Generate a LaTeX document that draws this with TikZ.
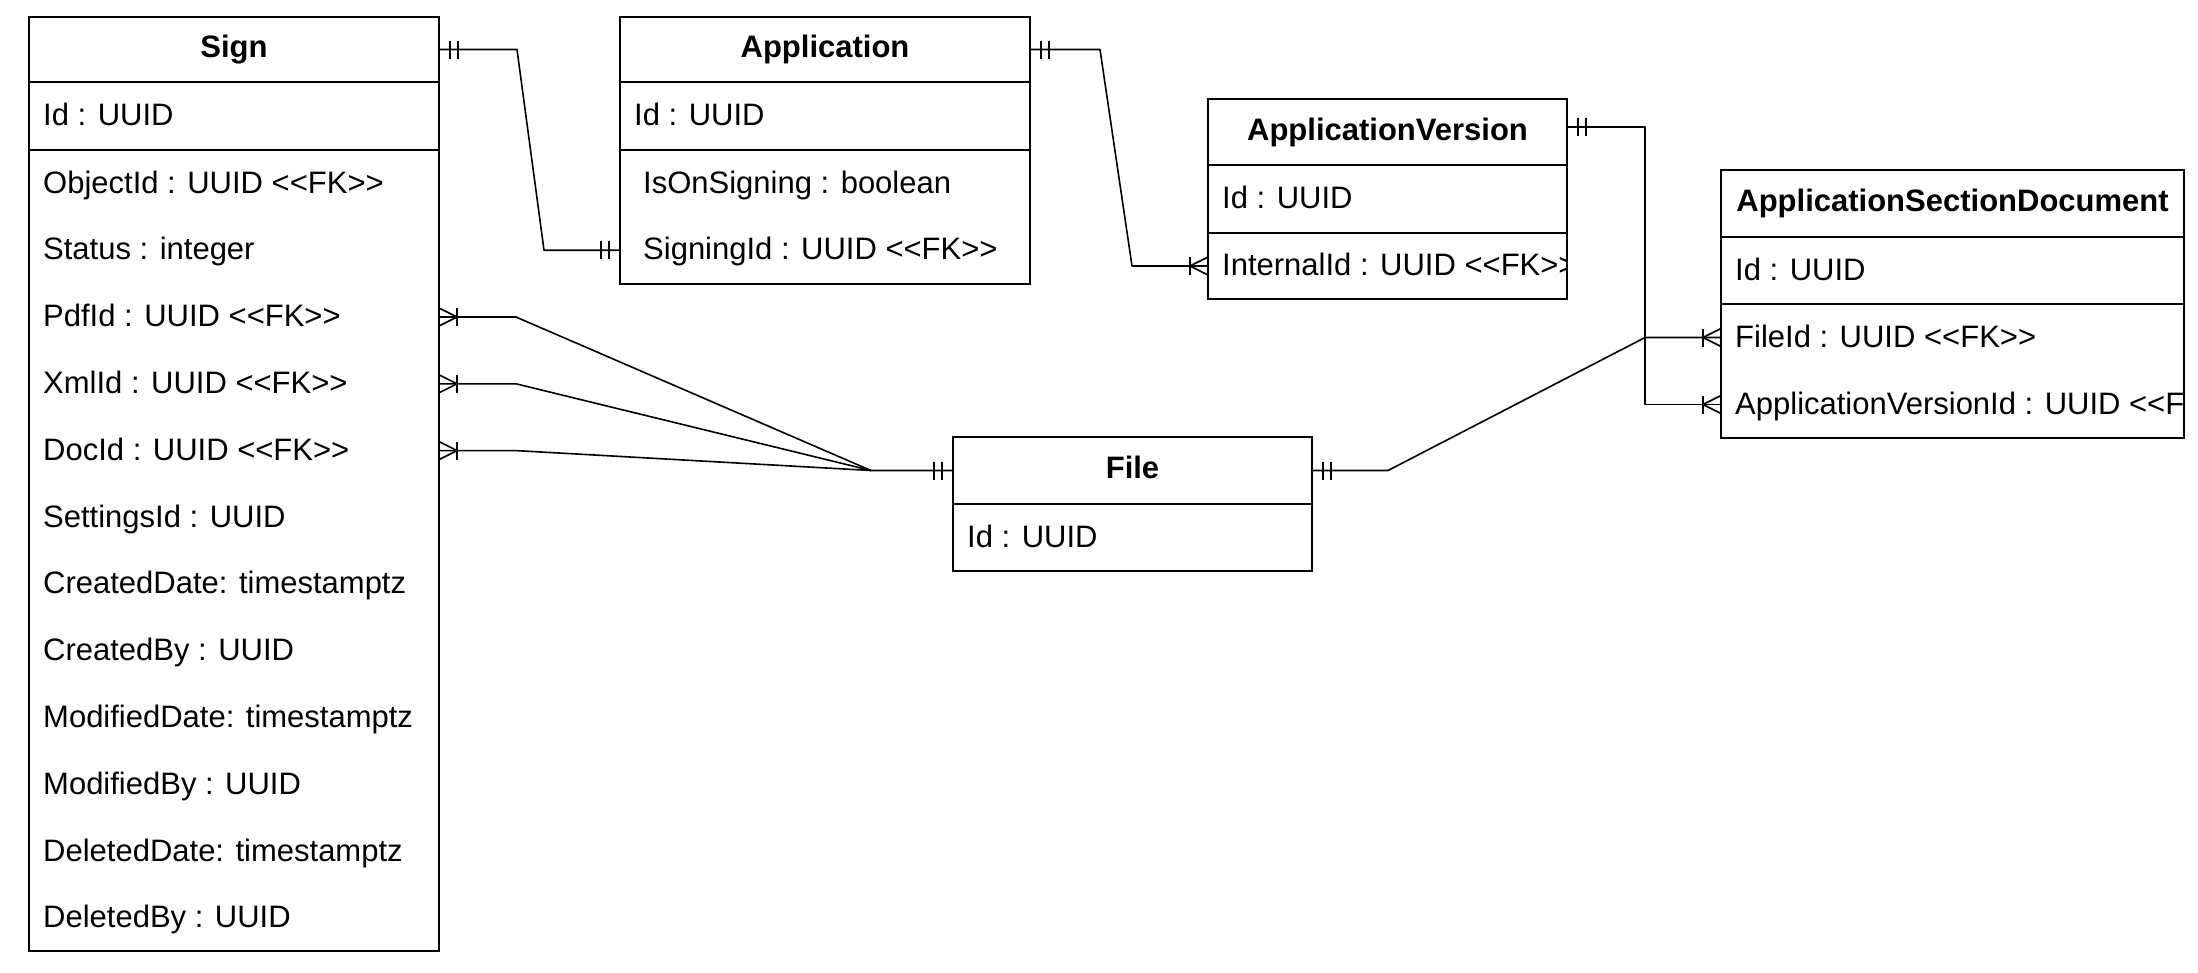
\documentclass[tikz,border=0pt]{standalone}
\usepackage{fontspec}
\setmainfont{Liberation Sans}
\usetikzlibrary{calc}
\newcommand{\fk}{<\kern0pt<FK>\kern0pt>}
\newcommand{\ermandone}[2]{%
  \draw[mk] ($#1+({#2*11},-9)$) -- ($#1+({#2*11},9)$);
  \draw[mk] ($#1+({#2*19},-9)$) -- ($#1+({#2*19},9)$);}
\newcommand{\ermany}[2]{%
  \draw[mk] ($#1+(0,-9)$) -- ($#1+({#2*18},0)$) -- ($#1+(0,9)$);
  \draw[mk] ($#1+({#2*18},-9)$) -- ($#1+({#2*18},9)$);}
\begin{document}
\begin{tikzpicture}[x=1pt,y=-1pt,
  box/.style={draw=black, line width=2.2pt, rectangle, inner sep=0pt, outer sep=0pt, anchor=north west},
  hdr/.style={box, font=\fontsize{31}{37}\selectfont\bfseries, text height=22pt, text depth=6pt},
  fld/.style={anchor=mid west, inner sep=0pt, yshift=-7pt, font=\fontsize{31}{37}\selectfont},
  rel/.style={line width=1.6pt, line join=round},
  mk/.style={line width=1.6pt}]
\fill[white] (0,0) rectangle (2198,972);
\useasboundingbox (0,0) rectangle (2198,972);

% ---------- Sign ----------
\node[hdr, minimum width=410pt, minimum height=65pt] (signh) at (29,17) {Sign};
\node[box, minimum width=410pt, minimum height=68pt] (signi) at (signh.south west) {};
\node[box, minimum width=410pt, minimum height=801pt] (signf) at (signi.south west) {};
\node[fld] (sign-id) at ($(signi.west)+(14,0)$) {Id : UUID};
\foreach \n/\t [count=\i from 0] in {obj/{ObjectId : UUID \fk}, status/{Status : integer},
  pdf/{PdfId : UUID \fk}, xml/{XmlId : UUID \fk}, doc/{DocId : UUID \fk},
  settings/{SettingsId : UUID}, cdate/{CreatedDate: timestamptz}, cby/{CreatedBy : UUID},
  mdate/{ModifiedDate: timestamptz}, mby/{ModifiedBy : UUID},
  ddate/{DeletedDate: timestamptz}, dby/{DeletedBy : UUID}}
  \coordinate (sign-\n) at ($(signf.north west)+(14,{33.4+66.8*\i})$);
\foreach \n/\t in {obj/{ObjectId : UUID \fk}, status/{Status : integer},
  pdf/{PdfId : UUID \fk}, xml/{XmlId : UUID \fk}, doc/{DocId : UUID \fk},
  settings/{SettingsId : UUID}, cdate/{CreatedDate: timestamptz}, cby/{CreatedBy : UUID},
  mdate/{ModifiedDate: timestamptz}, mby/{ModifiedBy : UUID},
  ddate/{DeletedDate: timestamptz}, dby/{DeletedBy : UUID}}
  \node[fld] (sign-\n-t) at (sign-\n) {\t};

% ---------- Application ----------
\node[hdr, minimum width=410pt, minimum height=65pt] (apph) at (620,17) {Application};
\node[box, minimum width=410pt, minimum height=68pt] (appi) at (apph.south west) {};
\node[box, minimum width=410pt, minimum height=133.6pt] (appf) at (appi.south west) {};
\node[fld] (app-id) at ($(appi.west)+(14,0)$) {Id : UUID};
\coordinate (app-ison) at ($(appf.north west)+(23,33.4)$);
\coordinate (app-sid) at ($(appf.north west)+(23,100.2)$);
\node[fld] (app-ison-t) at (app-ison) {IsOnSigning : boolean};
\node[fld] (app-sid-t) at (app-sid) {SigningId : UUID \fk};

% ---------- ApplicationVersion ----------
\node[hdr, minimum width=359pt, minimum height=66pt] (avh) at (1208,99) {ApplicationVersion};
\node[box, minimum width=359pt, minimum height=68pt] (avi) at (avh.south west) {};
\node[box, minimum width=359pt, minimum height=66pt] (avf) at (avi.south west) {};
\node[fld] (av-id) at ($(avi.west)+(14,0)$) {Id : UUID};
\coordinate (av-int) at ($(avf.west)+(14,0)$);
\begin{scope}
  \clip (avf.north west) rectangle (avf.south east);
  \node[fld] (av-int-t) at (av-int) {InternalId : UUID \fk};
\end{scope}

% ---------- ApplicationSectionDocument ----------
\node[hdr, minimum width=463pt, minimum height=67pt] (asdh) at (1721,170) {ApplicationSectionDocument};
\node[box, minimum width=463pt, minimum height=67pt] (asdi) at (asdh.south west) {};
\node[box, minimum width=463pt, minimum height=134pt] (asdf) at (asdi.south west) {};
\node[fld] (asd-id) at ($(asdi.west)+(14,0)$) {Id : UUID};
\coordinate (asd-file) at ($(asdf.north west)+(14,33.5)$);
\coordinate (asd-av) at ($(asdf.north west)+(14,100.5)$);
\node[fld] (asd-file-t) at (asd-file) {FileId : UUID \fk};
\begin{scope}
  \clip (asdf.north west) rectangle (asdf.south east);
  \node[fld] (asd-av-t) at (asd-av) {ApplicationVersionId : UUID \fk};
\end{scope}

% ---------- File ----------
\node[hdr, minimum width=359pt, minimum height=67pt] (fileh) at (953,437) {File};
\node[box, minimum width=359pt, minimum height=67pt] (filei) at (fileh.south west) {};
\node[fld] (file-id) at ($(filei.west)+(14,0)$) {Id : UUID};

% ---------- connector end points ----------
\coordinate (e1) at (appf.west |- app-sid);
\coordinate (e2) at (avf.west |- av-int);
\coordinate (s3) at ($(avh.east)+(0,-5)$);
\coordinate (e3) at (asdf.west |- asd-av);
\coordinate (e4) at (asdf.west |- asd-file);
\coordinate (ep) at (signf.east |- sign-pdf);
\coordinate (ex) at (signf.east |- sign-xml);
\coordinate (ed) at (signf.east |- sign-doc);
\coordinate (fj) at ($(fileh.west)+(-82,0)$);

% ---------- connectors ----------
\draw[rel] (signh.east) -- ($(signh.east)+(78,0)$) -- ($(e1)+(-76,0)$) -- (e1);
\draw[rel] (apph.east) -- ($(apph.east)+(70,0)$) -- ($(e2)+(-76,0)$) -- (e2);
\draw[rel] (s3) -- ($(s3)+(78,0)$) -- ($(e3)+(-76,0)$) -- (e3);
\draw[rel] (fileh.east) -- ($(fileh.east)+(76,0)$) -- ($(e4)+(-76,0)$) -- (e4);
\draw[rel] (fileh.west) -- (fj) -- ($(ep)+(77,0)$) -- (ep);
\draw[rel] (fj) -- ($(ex)+(77,0)$) -- (ex);
\draw[rel] (fj) -- ($(ed)+(77,0)$) -- (ed);

% ---------- markers ----------
\ermandone{(signh.east)}{1}
\ermandone{(e1)}{-1}
\ermandone{(apph.east)}{1}
\ermany{(e2)}{-1}
\ermandone{(s3)}{1}
\ermany{(e3)}{-1}
\ermandone{(fileh.east)}{1}
\ermany{(e4)}{-1}
\ermandone{(fileh.west)}{-1}
\ermany{(ep)}{1}
\ermany{(ex)}{1}
\ermany{(ed)}{1}
\end{tikzpicture}
\end{document}
